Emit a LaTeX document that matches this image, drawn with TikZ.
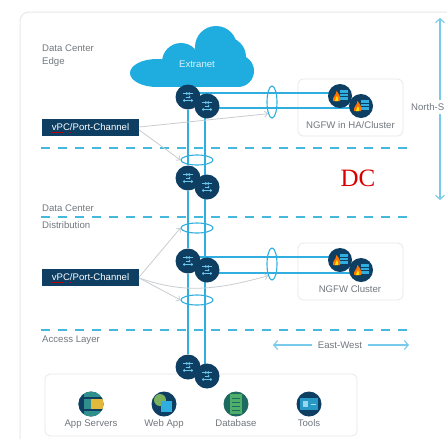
\documentclass[tikz,border=0pt]{standalone}
\usepackage{fontspec}
\setmainfont{Liberation Sans}
\newfontfamily\dcfont{Liberation Serif}
\usetikzlibrary{arrows.meta,calc,shapes.geometric}
\pgfdeclarelayer{backlayer}
\pgfdeclarelayer{linklayer}
\pgfsetlayers{backlayer,linklayer,main}
\definecolor{linkblue}{HTML}{2FAEDF}
\definecolor{navy}{HTML}{0E3F63}
\definecolor{dashblue}{HTML}{45B9DD}
\definecolor{cloudblue}{HTML}{1FADE0}
\definecolor{labgray}{HTML}{72787E}
\definecolor{boxgray}{HTML}{E6E8EA}
\definecolor{leader}{HTML}{C9CDD0}
\definecolor{dbgreen}{HTML}{1D6A60}
\definecolor{dbchip}{HTML}{4FAE6A}
\definecolor{appteal}{HTML}{2F8F8C}
\definecolor{appyellow}{HTML}{E3B93C}
\tikzset{
  lab/.style={font=\fontsize{9.6}{13}\selectfont,text=labgray,inner sep=0pt,align=left},
  switchnode/.style={circle,fill=navy,minimum size=25pt,inner sep=0pt},
  fwnode/.style={circle,fill=navy,minimum size=24pt,inner sep=0pt},
  link/.style={draw=linkblue,line width=1.9pt},
  zone/.style={draw=dashblue,line width=1.6pt,dash pattern=on 9pt off 8pt},
  grp/.style={draw=boxgray,line width=0.8pt,rounded corners=5pt,fill=white,inner sep=0pt},
  ringh/.style={ellipse,draw=linkblue,line width=1.1pt,minimum width=32pt,minimum height=10pt,inner sep=0pt},
  ringv/.style={ellipse,draw=linkblue,line width=1.1pt,minimum width=10pt,minimum height=32pt,inner sep=0pt},
  tagbox/.style={fill=navy,text=white,font=\fontsize{9.6}{11}\selectfont,minimum width=97pt,minimum height=17pt,inner sep=0pt},
  pointer/.style={draw=leader,line width=0.8pt},
  pointertip/.style={pointer,-{Straight Barb[length=3pt,width=6pt]}},
  flow/.style={draw=linkblue!65,line width=1.1pt,-{Straight Barb[length=4pt,width=9pt]}},
  iconnode/.style={circle,fill=navy,minimum size=25pt,inner sep=0pt},
  sw/.pic={
    \foreach \yy/\xx/\dd in {3.5/-2.5/1,3.5/2.5/-1,-3.5/-2.5/-1,-3.5/2.5/1,0/0/1}{
      \draw[linkblue!70!white,line width=0.6pt,-{Straight Barb[length=1.2pt,width=2.6pt]}] ({\xx pt-2.5pt*\dd},\yy pt) -- ({\xx pt+2.5pt*\dd},\yy pt);}
  },
  fw/.pic={
    \fill[linkblue] (0pt,6.5pt) rectangle (8pt,-4pt);
    \draw[navy,line width=0.5pt] (0pt,3pt) -- (8pt,3pt) (0pt,0pt) -- (8pt,0pt);
    \fill[orange!90!red] (-7pt,-5pt) .. controls (-8pt,-1pt) and (-4pt,0pt) .. (-3.5pt,5pt) .. controls (-1pt,2pt) and (1pt,-1pt) .. (0pt,-5pt) -- cycle;
    \fill[yellow!85!orange] (-5pt,-5pt) .. controls (-5.5pt,-3pt) and (-3.5pt,-2pt) .. (-3pt,0pt) .. controls (-2pt,-2pt) and (-1.5pt,-3pt) .. (-2pt,-5pt) -- cycle;
  }
}
\begin{document}
\begin{tikzpicture}[x=1pt,y=-1pt]
\useasboundingbox (0,0) rectangle (447,440);
\begin{pgfonlayer}{backlayer}
\fill[white] (0,0) rectangle (447,440);
\draw[draw=boxgray,line width=1pt,rounded corners=9pt] (447,12) -- (20,12) -- (20,439);
\node[grp,minimum width=105pt,minimum height=57pt] (fwbox1) at (350.5,107.5) {};
\node[grp,minimum width=105pt,minimum height=57pt] (fwbox2) at (350.5,271.5) {};
\node[grp,minimum width=312pt,minimum height=62pt] (srvbox) at (201,405) {};
\coordinate (z1l) at (41,148); \coordinate (z1r) at (408,148);
\coordinate (z2l) at (41,217); \coordinate (z2r) at (408,217);
\coordinate (z3l) at (41,330); \coordinate (z3r) at (408,330);
\draw[zone] (z1l) -- (z1r);
\draw[zone] (z2l) -- (z2r);
\draw[zone] (z3l) -- (z3r);
% cloud
\fill[cloudblue] (157,73) ellipse [x radius=27,y radius=14];
\fill[cloudblue] (181,62) circle [radius=19];
\fill[cloudblue] (216,47) circle [radius=21];
\fill[cloudblue] (226,57) circle [radius=20];
\fill[cloudblue] (238,71) circle [radius=16];
\fill[cloudblue] (157,60) rectangle (238,87);
\end{pgfonlayer}
\node[font=\fontsize{9.6}{11}\selectfont,text=white!85!cloudblue,inner sep=0pt] (extranet) at (197,64) {Extranet};
% switches
\node[switchnode] (s1a) at (188,97) {};
\node[switchnode] (s1b) at (207,106) {};
\node[switchnode] (s2a) at (188,178) {};
\node[switchnode] (s2b) at (207,187) {};
\node[switchnode] (s3a) at (188,261) {};
\node[switchnode] (s3b) at (207,270) {};
\node[switchnode] (s4a) at (188,367) {};
\node[switchnode] (s4b) at (207,376) {};
\foreach \n in {s1a,s1b,s2a,s2b,s3a,s3b,s4a,s4b}{\path (\n) pic {sw};}
% firewalls
\node[fwnode] (f1a) at (340,96) {};
\node[fwnode] (f1b) at (361,106) {};
\node[fwnode] (f2a) at (340,260) {};
\node[fwnode] (f2b) at (361,270) {};
\foreach \n in {f1a,f1b,f2a,f2b}{\path (\n) pic {fw};}
% rings
\node[ringh] (r1) at (197,160) {};
\node[ringh] (r2) at (197,228) {};
\node[ringh] (r3) at (197,300) {};
\node[ringv] (r4) at (272,102) {};
\node[ringv] (r5) at (272,264) {};
% tags
\node[tagbox] (t1) at (90.5,127) {vPC/Port-Channel};
\node[tagbox] (t2) at (90.5,277) {vPC/Port-Channel};
\draw[red!75!black,line width=0.7pt,dash pattern=on 1.2pt off 0.6pt] ([shift={(-40pt,-5.5pt)}]t1.center) -- ([shift={(-20pt,-5.5pt)}]t1.center);
\draw[red!75!black,line width=0.7pt,dash pattern=on 1.2pt off 0.6pt] ([shift={(-40pt,-5.5pt)}]t2.center) -- ([shift={(-20pt,-5.5pt)}]t2.center);
% links
\begin{pgfonlayer}{linklayer}
\draw[link] (s1a) -- (s2a);
\draw[link] (s2a) -- (s3a);
\draw[link] (s3a) -- (s4a);
\draw[link] ([xshift=-2pt]s1b.center) -- ([xshift=-2pt]s2b.center);
\draw[link] ([xshift=-2pt]s2b.center) -- ([xshift=-2pt]s3b.center);
\draw[link] ([xshift=-2pt]s3b.center) -- ([xshift=-2pt]s4b.center);
\draw[link] ([yshift=4pt]s1a.center) -- ([yshift=3pt]f1a.center);
\draw[link] ([yshift=-2pt]s1b.center) -- ([yshift=-2pt]f1b.center);
\draw[link] ([yshift=4pt]s3a.center) -- ([yshift=3pt]f2a.center);
\draw[link] ([yshift=-3pt]s3b.center) -- ([yshift=-3pt]f2b.center);
\draw[pointertip] ([yshift=0pt]t1.east) -- (r4.south west);
\draw[pointertip] ([yshift=-3pt]t1.east) -- (r1.west);
\draw[pointertip] (t2.east) -- (r2.west);
\draw[pointertip] ([yshift=-1pt]t2.east) -- (r3.west);
\draw[pointertip] ([yshift=-1pt]t2.east) .. controls (180,292) and (210,292) .. (r5.south west);
\end{pgfonlayer}
% labels
\node[lab,anchor=north west] (l1) at (42,45) {Data Center\\Edge};
\node[lab,anchor=west] (l2a) at (42,208) {Data Center};
\node[lab,anchor=west] (l2b) at (42,225) {Distribution};
\node[lab,anchor=west] (l3) at (42,340) {Access Layer};
\node[lab,anchor=center] (l4) at (350.5,125.5) {NGFW in HA/Cluster};
\node[lab,anchor=center] (l5) at (350,289) {NGFW Cluster};
\node[font=\dcfont\fontsize{25}{25}\selectfont,text=red!85!black,inner sep=0pt] (dc) at (358,178) {DC};
% north-south
\node[lab,anchor=west] (ns) at (411,107) {North-S};
\coordinate (nstop) at (440,18);
\coordinate (nsbot) at (440,200);
\draw[flow] (440,100) -- (nstop);
\draw[flow] (440,114) -- (nsbot);
% east-west
\node[lab,anchor=center] (ew) at (340,345) {East-West};
\coordinate (ewl) at (273,345);
\coordinate (ewr) at (409,345);
\draw[flow] ([xshift=-6pt]ew.west) -- (ewl);
\draw[flow] ([xshift=6pt]ew.east) -- (ewr);
% server icons
\node[iconnode] (app) at (91,404) {};
\begin{scope}
  \clip (91,404) circle [radius=12.5];
  \fill[appteal] (78,391) rectangle (104,417);
  \fill[navy] (78,391) rectangle (84,417);
  \fill[navy] (84,397) rectangle (104,399);
  \fill[navy] (84,409) rectangle (104,411);
  \fill[appyellow] (91,399) rectangle (104,409);
\end{scope}
\node[iconnode] (web) at (164,404) {};
\fill[dbchip!70!appyellow] (160,400) circle [radius=6];
\fill[linkblue] (161,401) rectangle (172,412);
\node[iconnode,fill=dbgreen] (db) at (236,404) {};
\fill[dbchip] (230,394) rectangle (242,414);
\foreach \yy in {398,402,406,410}{\draw[dbgreen,line width=0.5pt] (232,\yy) -- (240,\yy);}
\node[iconnode] (tools) at (309,404) {};
\fill[linkblue!80!navy] (300,398) rectangle (318,410);
\fill[linkblue!50!white] (303,401) rectangle (308,407);
\draw[linkblue!40!white,line width=0.8pt] (311,404) -- (316,404);
\node[lab,anchor=base] (al) at (91,426) {App Servers};
\node[lab,anchor=base] (wl) at (164,426) {Web App};
\node[lab,anchor=base] (dl) at (236,426) {Database};
\node[lab,anchor=base] (tl) at (309,426) {Tools};
\end{tikzpicture}
\end{document}
